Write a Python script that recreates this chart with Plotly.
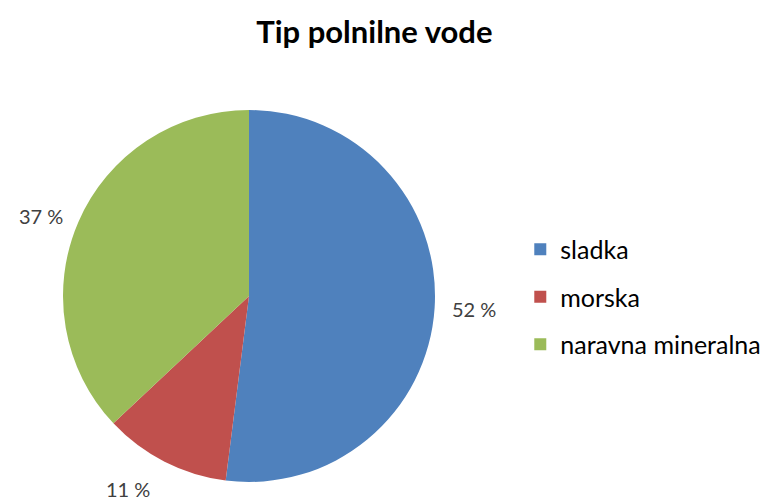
import math
import plotly.graph_objects as go

categories = ["sladka", "morska", "naravna mineralna"]
values = [52, 11, 37]
colors = ["#4F81BD", "#C0504D", "#9BBB59"]
title_text = "Tip polnilne vode"

W, H = 764, 500
cx, cy, R = 249, 296, 186  # pie centre / radius in px
FONT = "Lato, Open Sans, sans-serif"

fig = go.Figure()
fig.add_trace(go.Pie(
    labels=categories, values=values, sort=False, direction="clockwise",
    rotation=0, marker=dict(colors=colors, line=dict(width=0)),
    textinfo="none", hoverinfo="label+percent", showlegend=False,
    domain=dict(x=[(cx - R) / W, (cx + R) / W],
                y=[(H - cy - R) / H, (H - cy + R) / H]),
))

# outside percentage labels placed at slice mid-angles
total = sum(values)
cum = 0
annotations = []
gap = 16
for v in values:
    mid = (cum + v / 2) / total * 2 * math.pi
    cum += v
    s, c = math.sin(mid), math.cos(mid)
    px = cx + (R + gap) * s
    py = cy - (R + gap) * c
    xa = "left" if s > 0.3 else ("right" if s < -0.3 else "center")
    ya = "middle" if abs(c) < 0.5 else ("bottom" if c > 0 else "top")
    annotations.append(dict(
        x=px / W, y=(H - py) / H, xref="paper", yref="paper",
        text=f"{round(v / total * 100)} %", showarrow=False,
        font=dict(family=FONT, size=20, color="#404040"),
        xanchor=xa, yanchor=ya, borderpad=0,
        xshift=-6 if ya == "top" else 0))

# legend via dummy traces
for c, col in zip(categories, colors):
    fig.add_trace(go.Scatter(x=[None], y=[None], mode="markers", name=c,
                             legendgroup=c,
                             marker=dict(symbol="square", size=12, color=col)))

fig.update_layout(
    width=W, height=H,
    margin=dict(l=0, r=0, t=0, b=0, autoexpand=False),
    paper_bgcolor="white", plot_bgcolor="white",
    title=dict(text=f"<b>{title_text}</b>", x=0.490, xanchor="center", y=0.935, yanchor="middle",
               font=dict(family=FONT, size=31, color="#000000")),
    xaxis=dict(visible=False), yaxis=dict(visible=False),
    legend=dict(x=0.681, y=0.406, xanchor="left", yanchor="middle",
                tracegroupgap=12, itemsizing="constant",
                font=dict(family=FONT, size=25, color="#000000")),
    annotations=annotations,
)

fig.write_html("out.html", config={"displayModeBar": False},
               post_script="document.body.style.margin='0';")
